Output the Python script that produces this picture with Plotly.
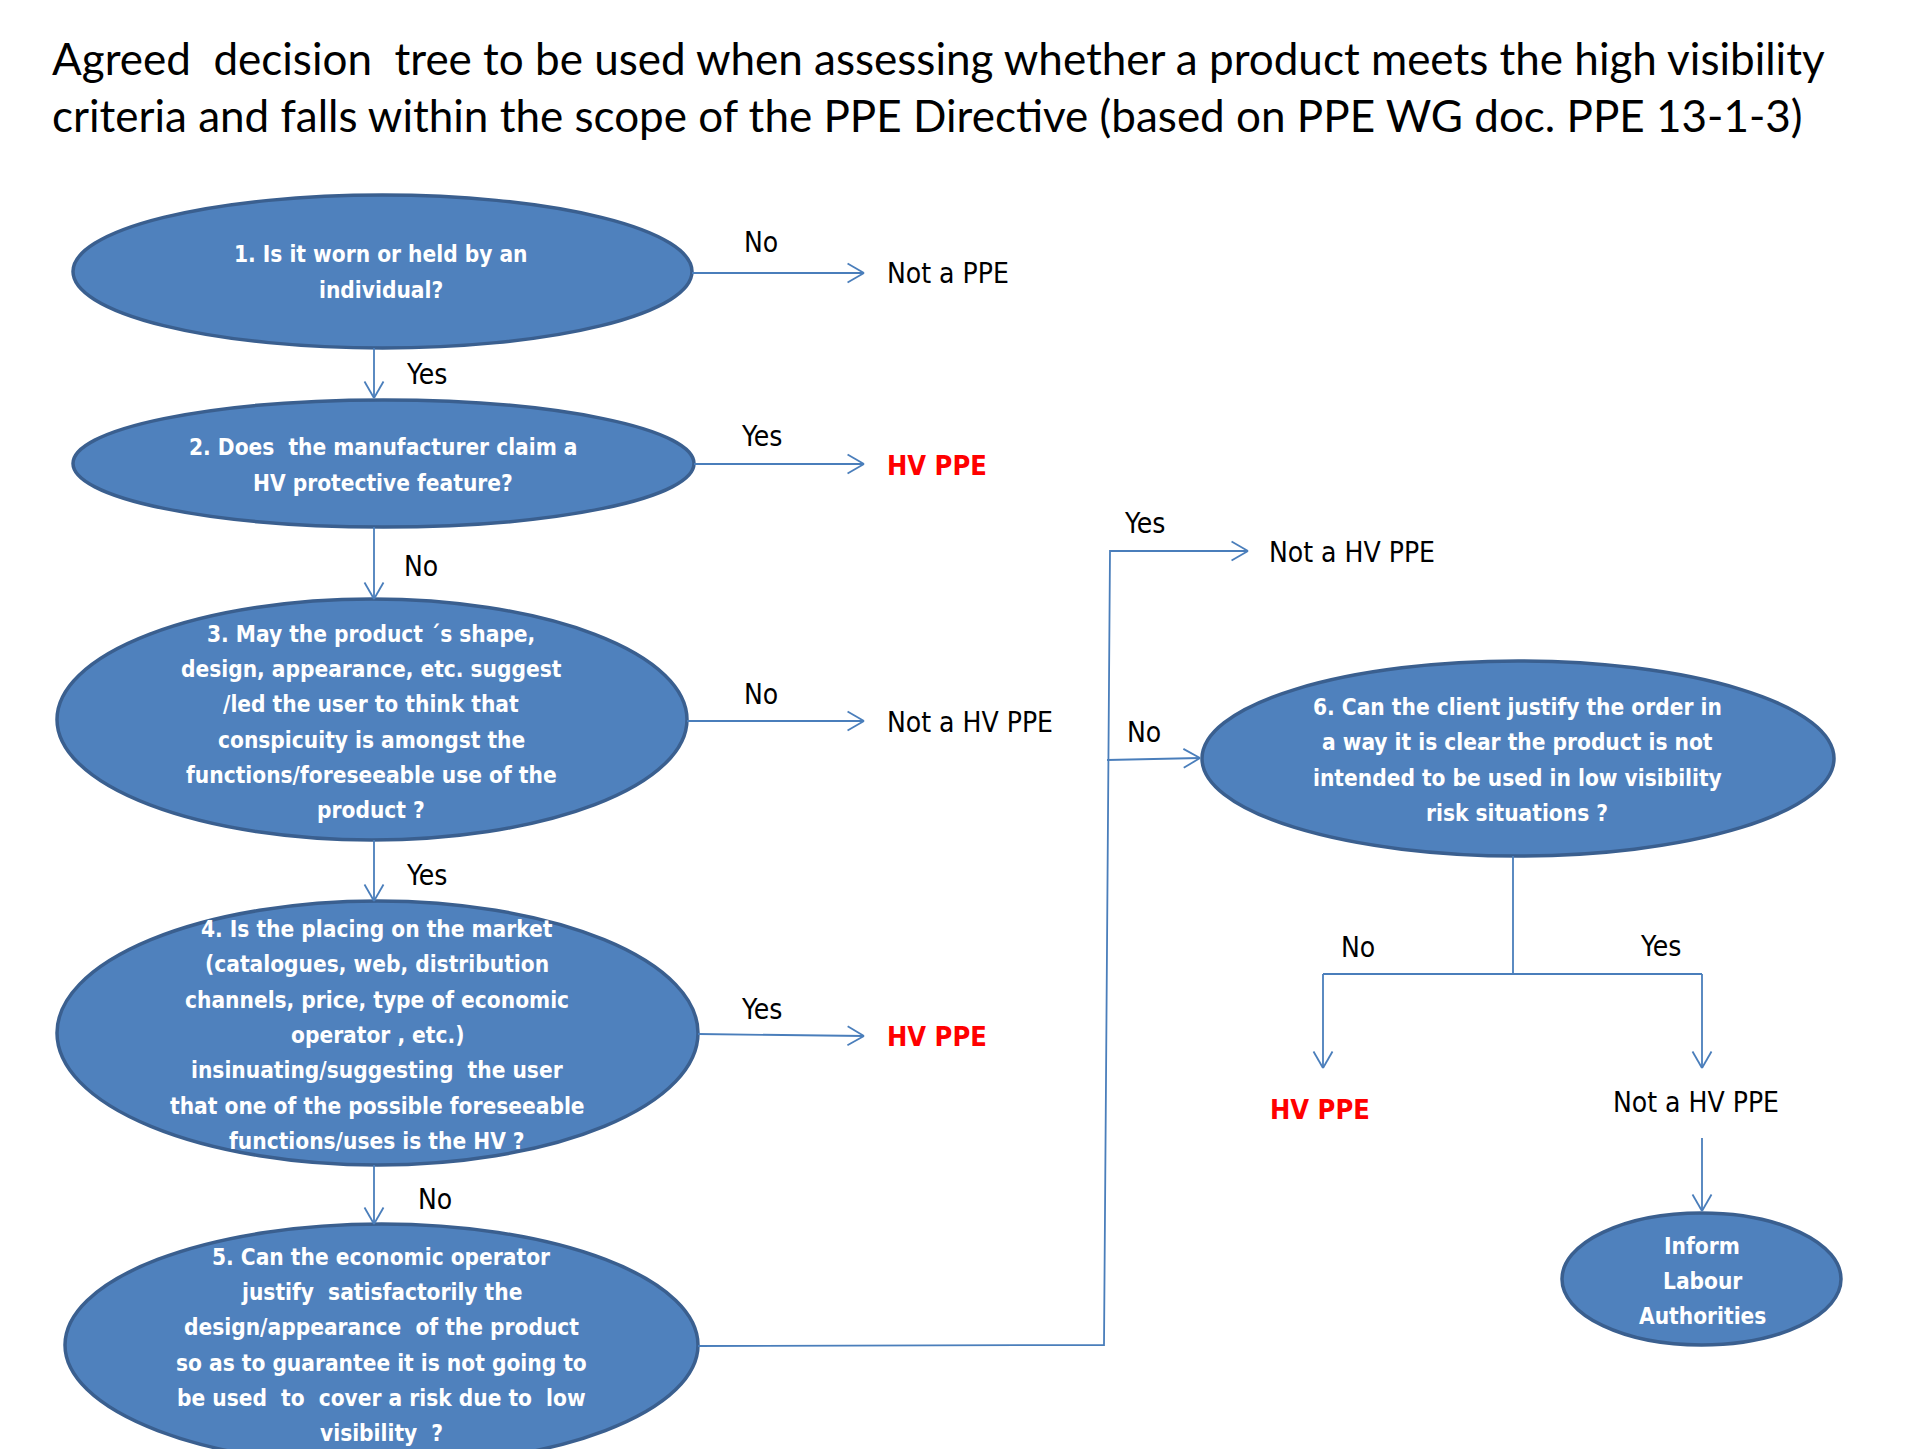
import math
import plotly.graph_objects as go

W, H = 1909, 1449
OFF = 8  # compensates the page's default body margin

# ---------------- content ----------------
title_lines = [
    "Agreed  decision  tree to be used when assessing whether a product meets the high visibility",
    "criteria and falls within the scope of the PPE Directive (based on PPE WG doc. PPE 13-1-3)",
]

question_texts = [
    ["1. Is it worn or held by an", "individual?"],
    ["2. Does  the manufacturer claim a", "HV protective feature?"],
    ["3. May the product \u00b4s shape,", "design, appearance, etc. suggest",
     "/led the user to think that", "conspicuity is amongst the",
     "functions/foreseeable use of the", "product ?"],
    ["4. Is the placing on the market", "(catalogues, web, distribution",
     "channels, price, type of economic", "operator , etc.)",
     "insinuating/suggesting  the user", "that one of the possible foreseeable",
     "functions/uses is the HV ?"],
    ["5. Can the economic operator", "justify  satisfactorily the",
     "design/appearance  of the product", "so as to guarantee it is not going to",
     "be used  to  cover a risk due to  low", "visibility  ?"],
    ["6. Can the client justify the order in", "a way it is clear the product is not",
     "intended to be used in low visibility", "risk situations ?"],
    ["Inform", "Labour", "Authorities"],
]

outcome_texts = ["Not a PPE", "HV PPE", "Not a HV PPE", "HV PPE",
                 "Not a HV PPE", "HV PPE", "Not a HV PPE"]
outcome_is_hv = [False, True, False, True, False, True, False]

branch_labels = ["No", "Yes", "Yes", "No", "No", "Yes", "Yes", "No",
                 "Yes", "No", "No", "Yes"]

# ---------------- layout (pixel positions) ----------------
node_box = [  # x0, x1, y0, y1
    (73, 692, 195, 348),
    (73, 694, 400, 527),
    (57, 687, 599, 840),
    (57, 698, 901, 1165),
    (65, 698, 1224, 1466),
    (1202, 1834, 661, 856),
    (1562, 1841, 1213, 1345),
]
node_text_pos = [(381, 272), (383, 465), (371, 722), (377, 1035),
                 (381, 1345), (1517, 760), (1702, 1281)]
LINE_STEP = 35.3

outcome_pos = [(885, 273, "left"), (885, 465, "left"), (885, 722, "left"),
               (885, 1036, "left"), (1267, 552, "left"),
               (1320, 1109, "center"), (1696, 1102, "center")]

branch_pos = [(761, 242), (426, 374), (761, 436), (421, 566), (761, 694),
              (426, 875), (761, 1009), (435, 1199), (1144, 523),
              (1144, 732), (1358, 947), (1660, 946)]

connectors = [  # (points, arrowhead)
    ([(692, 273), (864, 273)], True),
    ([(374, 348), (374, 398)], True),
    ([(694, 464), (864, 464)], True),
    ([(374, 527), (374, 599)], True),
    ([(687, 721), (864, 721)], True),
    ([(374, 840), (374, 901)], True),
    ([(698, 1034), (864, 1036)], True),
    ([(374, 1165), (374, 1224)], True),
    ([(698, 1346), (1104, 1345), (1110, 551), (1248, 551)], True),
    ([(1107, 760), (1200, 758)], True),
    ([(1513, 856), (1513, 974)], False),
    ([(1323, 974), (1702, 974)], False),
    ([(1323, 974), (1323, 1068)], True),
    ([(1702, 974), (1702, 1068)], True),
    ([(1702, 1138), (1702, 1211)], True),
]

FILL = "#4F81BD"
EDGE = "#3A5F8F"
LINE = "#4A7EBB"
NARROW = "DejaVu Sans Condensed, Liberation Sans Narrow, Arial Narrow, sans-serif"


def keep_spaces(s):
    return s.replace("  ", "\u00a0 ")


fig = go.Figure()
fig.add_trace(go.Scatter(x=[OFF, W], y=[OFF, H], mode="markers",
                         marker=dict(opacity=0), hoverinfo="skip", showlegend=False))

shapes = []
annotations = []

for (x0, x1, y0, y1) in node_box:
    shapes.append(dict(type="circle", xref="x", yref="y", x0=x0, x1=x1, y0=y0, y1=y1,
                       fillcolor=FILL, line=dict(color=EDGE, width=3.5), layer="below"))


def add_connector(points, head):
    path = "M " + " L ".join(f"{x},{y}" for x, y in points)
    shapes.append(dict(type="path", xref="x", yref="y", path=path,
                       line=dict(color=LINE, width=1.8)))
    if head:
        (xa, ya), (xb, yb) = points[-2], points[-1]
        ang = math.atan2(yb - ya, xb - xa)
        L = 19
        for s in (1, -1):
            a = ang + math.pi + s * math.radians(30)
            shapes.append(dict(type="line", xref="x", yref="y",
                               x0=xb, y0=yb, x1=xb + L * math.cos(a), y1=yb + L * math.sin(a),
                               line=dict(color=LINE, width=1.8)))


for pts, head in connectors:
    add_connector(pts, head)

for i, line in enumerate(title_lines):
    annotations.append(dict(text=keep_spaces(line), x=50, y=58 + 57 * i, xref="x", yref="y",
                            xanchor="left", yanchor="middle", showarrow=False,
                            font=dict(family="Lato, Open Sans, sans-serif", size=44, color="black")))

for lines, (cx, cy) in zip(question_texts, node_text_pos):
    n = len(lines)
    for k, ln in enumerate(lines):
        y = cy + (k - (n - 1) / 2) * LINE_STEP
        annotations.append(dict(text=f"<b>{keep_spaces(ln)}</b>", x=cx, y=y, xref="x", yref="y",
                                xanchor="center", yanchor="middle", showarrow=False,
                                font=dict(family=NARROW, size=22.5, color="white")))

for txt, hv, (x, y, anc) in zip(outcome_texts, outcome_is_hv, outcome_pos):
    annotations.append(dict(text=(f"<b>{txt}</b>" if hv else txt), x=x, y=y, xref="x", yref="y",
                            xanchor=anc, yanchor="middle", showarrow=False,
                            font=dict(family=NARROW, size=(27 if hv else 28),
                                      color=("#FF0000" if hv else "black"))))

for txt, (x, y) in zip(branch_labels, branch_pos):
    annotations.append(dict(text=txt, x=x, y=y, xref="x", yref="y",
                            xanchor="center", yanchor="middle", showarrow=False,
                            font=dict(family=NARROW, size=28, color="black")))

fig.update_layout(
    width=W, height=H, margin=dict(l=0, r=0, t=0, b=0),
    paper_bgcolor="white", plot_bgcolor="white",
    xaxis=dict(range=[OFF, W + OFF], visible=False, fixedrange=True),
    yaxis=dict(range=[H + OFF, OFF], visible=False, fixedrange=True),
    shapes=shapes, annotations=annotations, showlegend=False,
)

fig.write_html("out.html")
